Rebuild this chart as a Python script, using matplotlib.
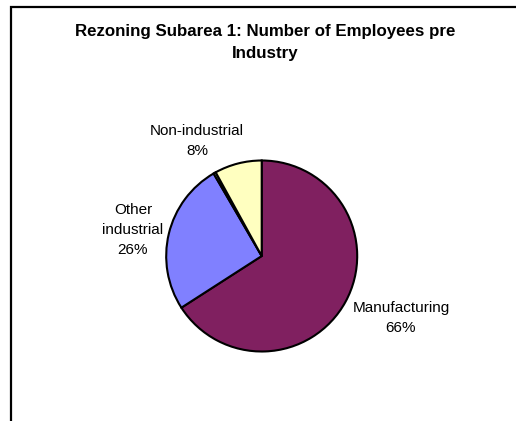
import matplotlib
matplotlib.use("Agg")
import matplotlib.pyplot as plt

# Employees per industry in Rezoning Subarea 1 (share of total)
categories = ["Manufacturing", "Other industrial", "Unclassified", "Non-industrial"]
values = [65.9, 25.7, 0.4, 8.0]
colors = ["#802060", "#8080FF", "#A0E0E0", "#FFFFC0"]
show_label = [True, True, False, True]
title = "Rezoning Subarea 1: Number of Employees pre\nIndustry"

W, H = 516, 421
plt.rcParams["font.family"] = ["Liberation Sans", "DejaVu Sans"]

fig = plt.figure(figsize=(W / 100, H / 100), dpi=100)
ax = fig.add_axes([0, 0, 1, 1])

# pixel-style helper: y measured from the top edge
def py(y):
    return H - y

ax.pie(values, colors=colors, startangle=90, counterclock=False,
       center=(261.7, py(256)), radius=95.5,
       wedgeprops=dict(edgecolor="black", linewidth=1.5))

ax.set_xlim(0, W)
ax.set_ylim(0, H)
ax.set_aspect("equal")
ax.axis("off")

total = sum(values)
label_pos = {
    "Manufacturing": (401, 318),
    "Other industrial": (133, 230),
    "Non-industrial": (197, 141),
}
for name, v, show in zip(categories, values, show_label):
    if not show:
        continue
    x, y = label_pos[name]
    txt = name.replace(" ", "\n") + f"\n{round(v / total * 100):d}%"
    ax.text(x, py(y), txt, ha="center", va="center", fontsize=11,
            linespacing=1.53, color="black")

ax.text(265, py(42.5), title, ha="center", va="center", fontsize=12.2,
        fontweight="bold", linespacing=1.55)

# chart frame (open on the right and bottom)
ax.plot([11, 11, W], [0, py(7), py(7)], color="black", linewidth=1.6,
        solid_capstyle="projecting", solid_joinstyle="miter")

fig.savefig("out.png", dpi=100)
